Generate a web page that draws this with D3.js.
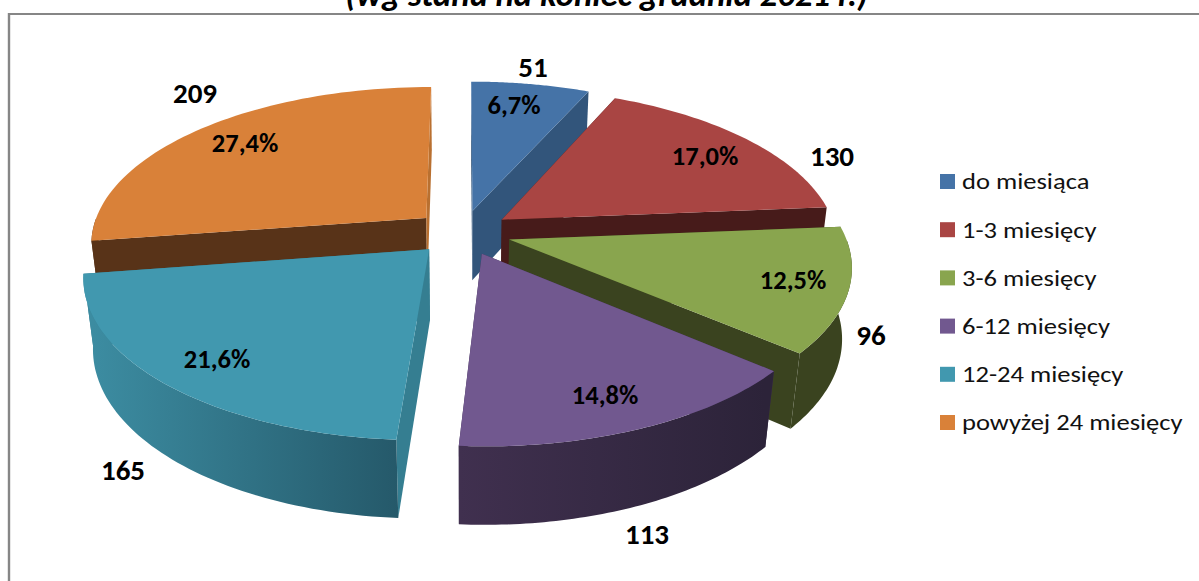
<!DOCTYPE html>
<html><head><meta charset="utf-8">
<script src="https://cdn.jsdelivr.net/npm/d3@7"></script>
<style>html,body{margin:0;padding:0;background:#fff;overflow:hidden}svg{display:block}text{font-family:Carlito,Lato,sans-serif}</style>
</head><body><svg id="c" width="1199" height="581"></svg>
<script>
const categories=["do miesiąca","1-3 miesięcy","3-6 miesięcy","6-12 miesięcy","12-24 miesięcy","powyżej 24 miesięcy"];
const values=[51,130,96,113,165,209];
const shares=["6,7%","17,0%","12,5%","14,8%","21,6%","27,4%"];
const titleText="(wg stanu na koniec grudnia 2021 r.)";
const topColors=["#4573A7","#A94543","#89A54E","#71588F","#4198AF","#D98139"];
const arcFrom=["#32557B","#471B1A","#3A431F","#40304F","#3C8CA1","#583318"];
const arcTo=["#32557B","#471B1A","#3A431F","#2C2339","#25596A","#583318"];
const startWall=["#32557B","#471B1A","#3A431F","#3F3050","#357E91","#583318"];
const endWall=["#32557B","#471B1A","#3A431F","#3F3050","#357E91","#B97030"];
const drawOrder=[5,0,1,2,3,4];

const svg=d3.select("#c");
const cfg={cx:462.6,cy:232.5,s:335,t:155.5,p:0.155,q:0.025,h:72,explode:0.145};
const project=(X,Y,Z)=>{const w=1-Y*cfg.p+Z*cfg.q;return [cfg.cx+X*cfg.s/w,cfg.cy+(Y*cfg.t+Z*cfg.h)/w];};
const arcs=d3.pie().sort(null).value(d=>d)(values);
const line=d3.line();
const pt=(d,a,r,Z)=>{const m=(d.startAngle+d.endAngle)/2;
  const ex=cfg.explode*Math.sin(m),ey=-cfg.explode*Math.cos(m);
  return project(ex+r*Math.sin(a),ey-r*Math.cos(a),Z);};
const angles=d=>d3.range(0,61).map(i=>d.startAngle+(d.endAngle-d.startAngle)*i/60);
const rim=(d,Z)=>angles(d).map(a=>pt(d,a,1,Z));

const frame="#868686";
svg.append("line").attr("x1",9).attr("x2",9).attr("y1",13).attr("y2",581).attr("stroke",frame).attr("stroke-width",2.4);
svg.append("line").attr("x1",8).attr("x2",1199).attr("y1",14).attr("y2",14).attr("stroke",frame).attr("stroke-width",2);

const stretched=(x,y,sx,size,weight,anchor,t)=>svg.append("text")
  .attr("transform",`translate(${x},${y}) scale(${sx},1)`).attr("text-anchor",anchor)
  .attr("font-size",size).attr("font-weight",weight).text(t);

stretched(606.5,5.5,1.02,34,700,"middle",titleText).attr("font-style","italic");

const defs=svg.append("defs");
const g=svg.append("g");
drawOrder.forEach(i=>{
  const d=arcs[i];
  const gid="wall"+i;
  const topRim=rim(d,0),botRim=rim(d,1);
  const front=angles(d).map((a,k)=>Math.cos(a)<=0?k:-1).filter(k=>k>=0);
  const a0=pt(d,0,0,0),a1=pt(d,0,0,1);
  const s=g.append("g");
  s.append("path").attr("d",line([a0,topRim[0],botRim[0],a1])+"Z").attr("fill",startWall[i]);
  s.append("path").attr("d",line([a0,topRim[60],botRim[60],a1])+"Z").attr("fill",endWall[i]);
  if(front.length>1){
    const tf=front.map(k=>topRim[k]),bf=front.map(k=>botRim[k]);
    const xs=bf.map(p=>p[0]);
    const lg=defs.append("linearGradient").attr("id",gid).attr("gradientUnits","userSpaceOnUse")
      .attr("x1",d3.min(xs)).attr("x2",d3.max(xs)).attr("y1",0).attr("y2",0);
    lg.append("stop").attr("offset",0).attr("stop-color",arcFrom[i]);
    lg.append("stop").attr("offset",1).attr("stop-color",arcTo[i]);
    s.append("path").attr("d",line(tf.concat(bf.slice().reverse()))+"Z").attr("fill",`url(#${gid})`);
  }
  s.append("path").attr("d",line([a0].concat(topRim))+"Z").attr("fill",topColors[i]);
});

const labelPos=[[514,106],[705,157],[793,281],[605,396],[217,360],[245,144]];
const valuePos=[[533,68],[832,157],[871,336],[647,535],[123,471],[195,94]];
shares.forEach((t,i)=>stretched(labelPos[i][0],labelPos[i][1]+8,1.02,26,700,"middle",t));
values.forEach((t,i)=>stretched(valuePos[i][0],valuePos[i][1]+9,1.02,28.5,700,"middle",t));

const ly=d3.scalePoint().domain(categories).range([181.5,422.5]);
categories.forEach((c,i)=>{
  svg.append("rect").attr("x",940).attr("y",ly(c)-7.5).attr("width",15).attr("height",15).attr("fill",topColors[i]);
  stretched(962,ly(c)+7.8,1.14,23.3,400,"start",c).attr("fill","#111");
});
</script></body></html>
